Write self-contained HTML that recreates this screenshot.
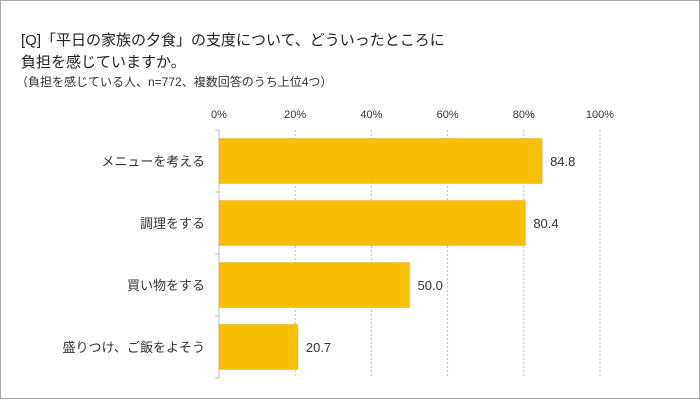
<!DOCTYPE html>
<html><head><meta charset="utf-8"><style>
body{margin:0;background:#fff}
svg{display:block;font-family:"Liberation Sans","Noto Sans CJK JP",sans-serif}
</style></head><body>
<svg width="700" height="400">
<rect x="0.5" y="0.5" width="699" height="398" fill="#fff" stroke="#aaa"/>
<text x="21" y="45" font-size="15" fill="#222">[Q]「平日の家族の夕食」の支度について、どういったところに</text>
<text x="21" y="67" font-size="15" fill="#222">負担を感じていますか。</text>
<text x="16" y="86" font-size="12" fill="#333">（負担を感じている人、n=772、複数回答のうち上位4つ）</text>
<g id="grid"></g><g id="bars"></g>
</svg>
<script>
const categories=["メニューを考える","調理をする","買い物をする","盛りつけ、ご飯をよそう"];
const values=[84.8,80.4,50.0,20.7];
const ticks=[0,20,40,60,80,100];
const tickLabels=["0%","20%","40%","60%","80%","100%"];
const NS="http://www.w3.org/2000/svg";
const svgEl=document.querySelector('svg');
const x0=219,x1=600,yTop=130,yBot=378;
const xs=v=>x0+(v/100)*(x1-x0);
const band=(yBot-yTop)/categories.length;
function mk(t,a,p){const e=document.createElementNS(NS,t);for(const k in a)e.setAttribute(k,a[k]);(p||svgEl).appendChild(e);return e;}
const g=document.getElementById('grid'),b=document.getElementById('bars');
ticks.forEach((t,i)=>{
 const l=mk('line',{x1:xs(t),x2:xs(t),y1:yTop,y2:yBot,stroke:'#bbb','stroke-dasharray':i?'2,2':'none'},g);
 
 
 const tx=mk('text',{x:xs(t),y:118,'font-size':11,'text-anchor':'middle',fill:'#333'},g);
 tx.textContent=tickLabels[i];
 
 
});
for(let i=0;i<=categories.length;i++){
 const l=mk('line',{x1:x0-4,x2:x0,y1:yTop+i*band,y2:yTop+i*band,stroke:'#bbb'},g);
 
 
}
categories.forEach((c,i)=>{
 const yc=yTop+band*(i+0.5);
 const r=mk('rect',{x:x0,y:yc-22.5,width:xs(values[i])-x0,height:45,fill:'#f8be00',stroke:'#e0b040','stroke-width':0.5},b);
 
 
 const v=mk('text',{x:xs(values[i])+8,y:yc+5,'font-size':13,fill:'#333'},b);
 v.textContent=values[i].toFixed(1);
 
 
 const cl=mk('text',{x:205,y:yc+5,'font-size':13,'text-anchor':'end',fill:'#333'},b);
 cl.textContent=c;
 
 
});
</script>
</body></html>
